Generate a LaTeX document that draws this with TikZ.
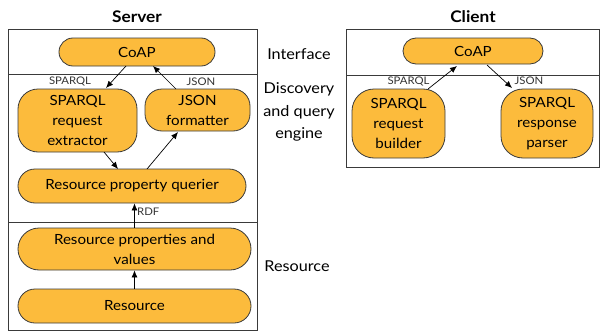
\documentclass[tikz,border=0pt]{standalone}
\usepackage{fontspec}
\setmainfont{Lato}[FakeStretch=1.08]
\usetikzlibrary{arrows.meta}
\definecolor{boxfill}{HTML}{FCBB3C}
\definecolor{edge}{HTML}{3A3A3A}
\tikzset{
  blob/.style={draw=edge, fill=boxfill, line width=0.8pt, align=center, font=\fontsize{14}{20}\selectfont, inner sep=0pt},
  frame/.style={draw=edge, line width=0.8pt},
  arr/.style={-{Latex[length=7pt,width=6pt]}, line width=0.7pt, black},
  lbl/.style={font=\fontsize{10.5}{12}\selectfont, text=black!80, inner sep=0pt},
  side/.style={font=\fontsize{15}{22.5}\selectfont, align=center, inner sep=0pt},
  title/.style={font=\bfseries\fontsize{16}{18}\selectfont, inner sep=0pt}
}
\begin{document}
\begin{tikzpicture}[x=1pt,y=-1pt]
\useasboundingbox (0,0) rectangle (600,332);
% titles
\node[title] (ts) at (137,17) {Server};
\node[title] (tc) at (473,17) {Client};
% server frame
\draw[frame] (8,29) rectangle (257,330);
\draw[frame] (8,74) -- (257,74);
\draw[frame] (8,222) -- (257,222);
% client frame
\draw[frame] (346,29) rectangle (599,167);
\draw[frame] (346,75) -- (599,75);
% server nodes
\node[blob, minimum width=156pt, minimum height=28pt, rounded corners=14pt] (scoap) at (137,52) {CoAP};
\node[blob, minimum width=119pt, minimum height=63pt, rounded corners=20pt] (ext) at (77.5,120.5) {SPARQL\\request\\extractor};
\node[blob, minimum width=105pt, minimum height=42pt, rounded corners=17pt] (fmt) at (197.5,110) {JSON\\formatter};
\node[blob, minimum width=228pt, minimum height=34pt, rounded corners=17pt] (qry) at (132,186) {Resource property querier};
\node[blob, minimum width=233pt, minimum height=42pt, rounded corners=21pt] (rpv) at (134.5,249) {Resource properties and\\values};
\node[blob, minimum width=233pt, minimum height=34pt, rounded corners=17pt] (res) at (134.5,306) {Resource};
% client nodes
\node[blob, minimum width=140pt, minimum height=26pt, rounded corners=13pt] (ccoap) at (473,51) {CoAP};
\node[blob, minimum width=93pt, minimum height=69pt, rounded corners=22pt] (bld) at (398.5,123.5) {SPARQL\\request\\builder};
\node[blob, minimum width=92pt, minimum height=69pt, rounded corners=22pt] (prs) at (547,123.5) {SPARQL\\response\\parser};
% side labels
\node[side] (li) at (299,54) {Interface};
\node[side] (ld) at (299,112) {Discovery\\and query\\engine};
\node[side] (lr) at (297,266) {Resource};
% server arrows
\draw[arr] (126,66) coordinate (a1) -- (106,88) coordinate (a1e);
\draw[arr] (176,89) coordinate (a2) -- (153,66) coordinate (a2e);
\draw[arr] (104,152) coordinate (a3) -- (118,169) coordinate (a3e);
\draw[arr] (147,169) coordinate (a4) -- (178,132) coordinate (a4e);
\draw[arr] (rpv.north) -- (rpv.north |- qry.south);
\draw[arr] (res.north) -- (rpv.south);
\node[lbl, anchor=west] (lrdf) at (137,212) {RDF};
\node[lbl] (ls1) at (70,81.5) {SPARQL};
\node[lbl] (lj1) at (201,81.5) {JSON};
% client arrows
\draw[arr] (428,89) coordinate (b1) -- (457,66) coordinate (b1e);
\draw[arr] (487,65) coordinate (b2) -- (512,88) coordinate (b2e);
\node[lbl] (ls2) at (408.5,81) {SPARQL};
\node[lbl] (lj2) at (529,81) {JSON};
\end{tikzpicture}
\end{document}
